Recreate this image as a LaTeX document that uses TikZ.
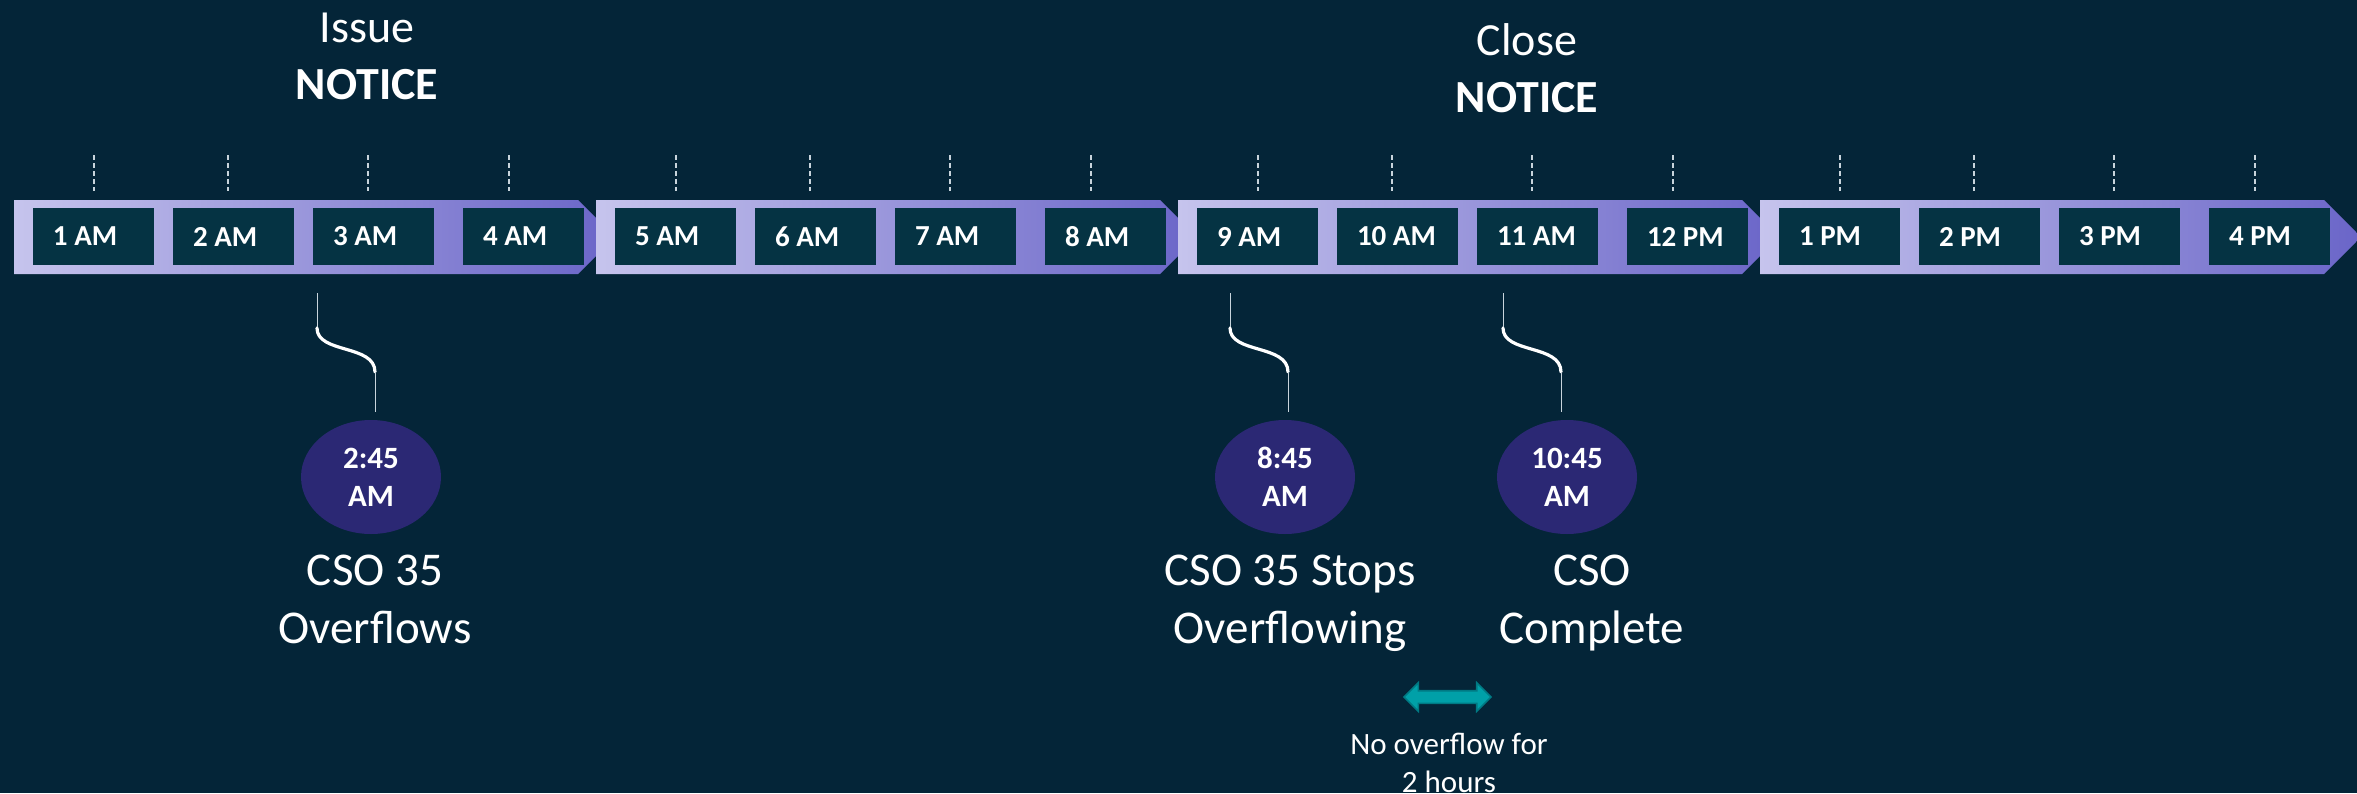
\documentclass[tikz,border=0pt]{standalone}
\usepackage{fontspec}
\setmainfont{Carlito}
\usetikzlibrary{shapes.geometric,shapes.arrows}

\definecolor{bgteal}{RGB}{4,37,56}
\definecolor{boxteal}{RGB}{5,51,67}
\definecolor{barlight}{RGB}{198,196,237}
\definecolor{bardark}{RGB}{106,101,200}
\definecolor{dotindigo}{RGB}{43,40,116}
\definecolor{gapteal}{RGB}{0,160,168}
\definecolor{gapedge}{RGB}{0,122,132}
\definecolor{tickgrey}{RGB}{200,212,220}

\begin{document}
\begin{tikzpicture}[
  x=0.5pt, y=-0.5pt,
  hourbox/.style={fill=boxteal, text=white, minimum height=28.5pt,
    inner xsep=10pt, inner ysep=0pt,
    font=\fontsize{14.5}{17}\selectfont\bfseries},
  tick/.style={tickgrey, line width=0.6pt, dash pattern=on 2.5pt off 1.5pt},
  timedot/.style={ellipse, fill=dotindigo, text=white, inner sep=0pt,
    minimum width=70pt, minimum height=57pt, align=center,
    font=\fontsize{15.5}{19}\selectfont\bfseries},
  stem/.style={draw=tickgrey, line width=0.5pt},
  wave/.style={draw=white, line width=1.6pt, line cap=round},
  bigtext/.style={anchor=north, text=white, inner sep=0pt, align=center,
    font=\fontsize{23.5}{29}\selectfont},
  headtext/.style={anchor=north, text=white, inner sep=0pt, align=center,
    font=\fontsize{23}{28.5}\selectfont},
  smalltext/.style={anchor=north, text=white, inner sep=0pt, align=center,
    font=\fontsize{15.5}{19}\selectfont},
  gaparrow/.style={double arrow, fill=gapteal, draw=gapedge, line width=0.8pt,
    inner xsep=0pt, inner ysep=2.75pt, minimum height=43.5pt,
    double arrow head extend=4pt}
]
\useasboundingbox (0,0) rectangle (2357,793);
\fill[bgteal] (0,0) rectangle (2357,793);

% timeline bar, four chevrons
\foreach \seg in {0,...,3} {
  \pgfmathsetmacro\L{14+582*\seg}
  \shade[left color=barlight, right color=bardark]
    (\L,200) -- (\L+564,200) -- (\L+601,237) -- (\L+564,274) -- (\L,274) -- cycle;
  \foreach \dx in {80,214,354,495}
    \draw[tick] (\L+\dx,155) -- ++(0,36);
}

% hours
\foreach \lab [count=\i from 0] in {1 AM,2 AM,3 AM,4 AM,5 AM,6 AM,7 AM,8 AM,
    9 AM,10 AM,11 AM,12 PM,1 PM,2 PM,3 PM,4 PM} {
  \pgfmathtruncatemacro\seg{floor(\i/4)}
  \pgfmathtruncatemacro\k{mod(\i,4)}
  \pgfmathsetmacro\bx{14+582*\seg+79.5+140*\k+10*(\k==3)}
  \node[hourbox] (h\i) at (\bx,236.5) {\makebox[40.5pt][l]{\lab}};
}

% notices
\node[headtext] (issue) at (367,2.1) {\strut Issue\\\textbf{NOTICE}};
\node[headtext] (close) at (1527,15.1) {\strut Close\\\textbf{NOTICE}};

% events
\foreach \n/\sx/\ex/\tm in {1/317/371/{2:45\\AM}, 2/1230/1285/{8:45\\AM},
    3/1503/1567/{10:45\\AM}} {
  \node[timedot] (e\n) at (\ex,477) {\tm};
  \coordinate (s\n) at (\sx,293);
  \draw[stem] (s\n) -- ++(0,35) coordinate (w\n);
  \draw[wave] (w\n) .. controls +(0,26) and +(0,-28) .. ++(58,44) coordinate (v\n);
  \draw[stem, shorten >=4pt] (v\n) -- (v\n |- e\n.north);
}

\node[bigtext] (l1) at (375,544.4) {\strut CSO 35\\Overflows};
\node[bigtext] (l2) at (1290,544.4) {\strut CSO 35 Stops\\Overflowing};
\node[bigtext] (l3) at (1592,544.4) {\strut CSO\\Complete};

% two quiet hours
\node[gaparrow] (gap) at (1447.5,697) {};
\node[smalltext] (gaptext) at (1449,727.4) {\strut No overflow for\\2 hours};
\end{tikzpicture}
\end{document}
